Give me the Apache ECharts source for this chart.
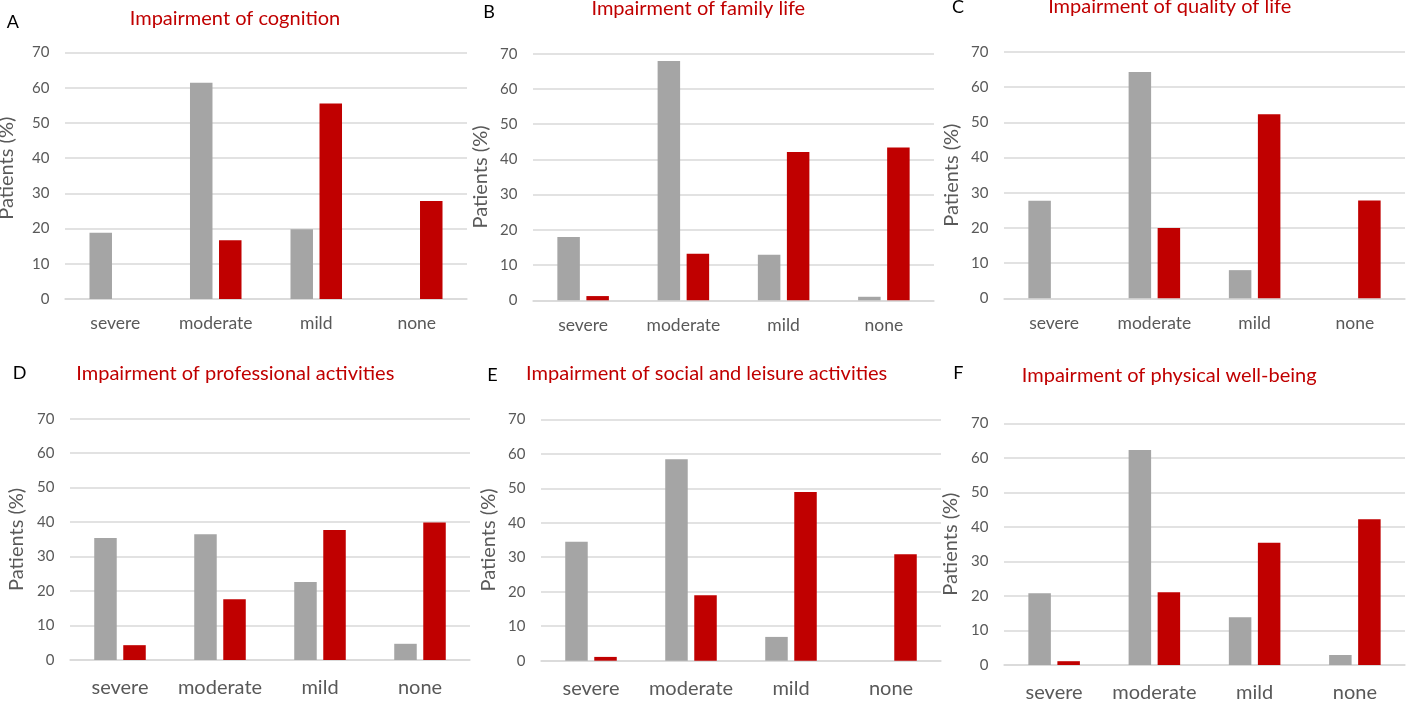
<!DOCTYPE html>
<html>
<head>
<meta charset="utf-8">
<title>Impairment by domain</title>
<script src="https://cdn.jsdelivr.net/npm/echarts@6/dist/echarts.min.js"></script>
<style>
  html, body { margin: 0; padding: 0; background: #ffffff; }
  #chart { width: 1406px; height: 702px; }
</style>
</head>
<body>
<div id="chart"></div>
<script>
// Severity categories on the x axis
const categories = ['severe', 'moderate', 'mild', 'none'];

// Value axis range (percent of patients)
const yMin = 0;
const yMax = 70;
const yStep = 10;

// Panel letters and titles
const panelLetters = ['A', 'B', 'C', 'D', 'E', 'F'];
const panelTitles = [
  'Impairment of cognition',
  'Impairment of family life',
  'Impairment of quality of life',
  'Impairment of professional activities',
  'Impairment of social and leisure activities',
  'Impairment of physical well-being'
];

// Percent of patients per severity level: grey group and red group
const greyCognition    = [18.8, 61.4, 19.8, 0];
const redCognition     = [0, 16.7, 55.5, 27.8];
const greyFamily       = [18.0, 67.9, 12.9, 1.0];
const redFamily        = [1.2, 13.2, 42.1, 43.4];
const greyQuality      = [27.7, 64.3, 8.0, 0];
const redQuality       = [0, 20.0, 52.3, 27.8];
const greyProfessional = [35.4, 36.5, 22.6, 4.7];
const redProfessional  = [4.3, 17.6, 37.7, 39.9];
const greySocial       = [34.5, 58.4, 6.9, 0];
const redSocial        = [1.1, 19.0, 48.9, 30.9];
const greyPhysical     = [20.8, 62.3, 13.8, 2.9];
const redPhysical      = [1.1, 21.1, 35.4, 42.2];

const greySeries = [greyCognition, greyFamily, greyQuality, greyProfessional, greySocial, greyPhysical];
const redSeries  = [redCognition, redFamily, redQuality, redProfessional, redSocial, redPhysical];

// ---- layout and styling ----
const FONT = 'Lato, "Open Sans", sans-serif';
const GREY = '#a5a5a5';
const RED = '#c00000';
const GRID_LINE = '#d9d9d9';
const AXIS_TEXT = '#595959';

// plot rectangles for the 2 x 3 panel layout
const plotBoxes = [
  { left: 65,   top: 52.5,  width: 402, height: 246.5 },
  { left: 533,  top: 53.7,  width: 401, height: 246.6 },
  { left: 1004, top: 52,    width: 401, height: 246.3 },
  { left: 70,   top: 418.7, width: 400, height: 241.3 },
  { left: 541,  top: 419.3, width: 400, height: 241.4 },
  { left: 1004, top: 423.3, width: 401, height: 241.7 }
];
const titlePos  = [[235, 18.3], [698.3, 9], [1169.7, 6.7], [235.3, 373.7], [706.7, 373.7], [1169.2, 375.3]];
const letterPos = [[12.8, 22.5], [489, 12], [958, 7.5], [19.5, 373.3], [492.5, 374.7], [958.3, 373.3]];
const nameGaps  = [48.6, 42, 42.7, 43.3, 42.4, 43.7];
const namePad   = [[0, 0, 0, 15], 0, 0, 0, 0, 0];

const grids = [], xAxes = [], yAxes = [], series = [], graphics = [];

plotBoxes.forEach(function (box, i) {
  const bottomRow = i >= 3;
  grids.push(Object.assign({ containLabel: false, outerBoundsMode: 'none' }, box));

  xAxes.push({
    type: 'category',
    gridIndex: i,
    data: categories,
    axisLine: { show: true, lineStyle: { color: GRID_LINE, width: 1.5 } },
    axisTick: { show: false },
    axisLabel: {
      interval: 0,
      color: AXIS_TEXT,
      fontFamily: FONT,
      fontSize: bottomRow ? 20 : 17.5,
      margin: bottomRow ? 18 : 15.8
    },
    splitLine: { show: false }
  });

  yAxes.push({
    type: 'value',
    gridIndex: i,
    min: yMin,
    max: yMax,
    interval: yStep,
    name: 'Patients (%)',
    nameLocation: 'middle',
    nameGap: nameGaps[i],
    nameTextStyle: { color: AXIS_TEXT, fontFamily: FONT, fontSize: 20, padding: namePad[i] },
    axisLine: { show: false },
    axisTick: { show: false },
    axisLabel: { color: AXIS_TEXT, fontFamily: FONT, fontSize: 15, margin: 15.5 },
    splitLine: { show: true, lineStyle: { color: GRID_LINE, width: 1.5 } }
  });

  series.push({
    type: 'bar',
    name: 'grey group',
    xAxisIndex: i,
    yAxisIndex: i,
    data: greySeries[i],
    barWidth: 22.5,
    barGap: '29%',
    itemStyle: { color: GREY },
    silent: true,
    animation: false
  });
  series.push({
    type: 'bar',
    name: 'red group',
    xAxisIndex: i,
    yAxisIndex: i,
    data: redSeries[i],
    barWidth: 22.5,
    barGap: '29%',
    itemStyle: { color: RED },
    silent: true,
    animation: false
  });

  graphics.push({
    type: 'text',
    x: titlePos[i][0],
    y: titlePos[i][1],
    style: {
      text: panelTitles[i],
      fill: RED,
      font: '20px ' + FONT,
      textAlign: 'center',
      textVerticalAlign: 'middle'
    }
  });
  graphics.push({
    type: 'text',
    x: letterPos[i][0],
    y: letterPos[i][1],
    style: {
      text: panelLetters[i],
      fill: '#000000',
      font: '18px ' + FONT,
      textAlign: 'center',
      textVerticalAlign: 'middle'
    }
  });
});

const chart = echarts.init(document.getElementById('chart'), null, { renderer: 'canvas' });
chart.setOption({
  animation: false,
  backgroundColor: '#ffffff',
  grid: grids,
  xAxis: xAxes,
  yAxis: yAxes,
  series: series,
  graphic: graphics,
  tooltip: { show: false }
});
</script>
</body>
</html>
